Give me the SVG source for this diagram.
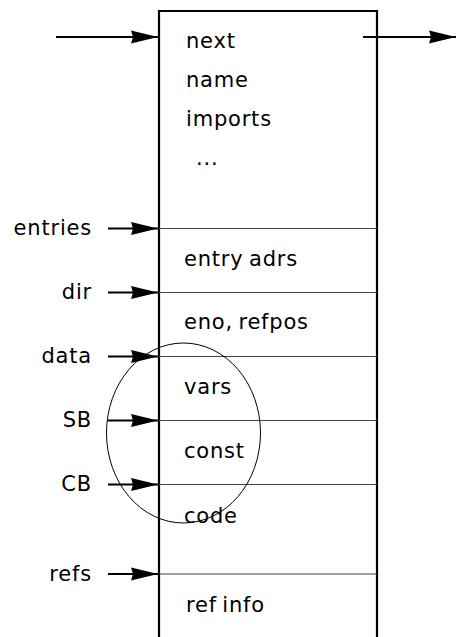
<svg xmlns="http://www.w3.org/2000/svg" width="456" height="637" viewBox="0 0 456 637">
<style>
  text { font-family: "DejaVu Sans", "Liberation Sans", sans-serif; font-size: 21px; letter-spacing: 0.8px; word-spacing: -2px; fill: #000; }
  .lbl { text-anchor: end; }
  .sep { stroke: #444; stroke-width: 1.2; fill: none; }
  .box { stroke: #000; stroke-width: 2.2; fill: none; }
  .arr { stroke: #000; stroke-width: 2.2; fill: none; marker-end: url(#ah); }
</style>
<defs>
  <marker id="ah" markerUnits="userSpaceOnUse" markerWidth="28" markerHeight="14" refX="27" refY="7" orient="auto" viewBox="0 0 28 14">
    <path d="M0,0.5 L27,7 L0,13.5 L2,7 Z" fill="#000"/>
  </marker>
</defs>
<rect width="456" height="637" fill="#fff"/>
<g id="module">
  <path class="box" d="M159,637 V11 H377 V637"/>
  <path class="sep" d="M159,228.5 H377 M159,292.5 H377 M159,356.5 H377 M159,420.5 H377 M159,484.5 H377 M159,574 H377"/>
  <text x="186" y="48">next</text>
  <text x="186" y="87">name</text>
  <text x="186" y="126">imports</text>
  <text x="196" y="165">...</text>
  <text x="184" y="266">entry adrs</text>
  <text x="184" y="329">eno, refpos</text>
  <text x="184" y="394">vars</text>
  <text x="184" y="458">const</text>
  <text x="184" y="523">code</text>
  <text x="186" y="612">ref info</text>
</g>
<g id="labels">
  <text class="lbl" x="92" y="235">entries</text>
  <text class="lbl" x="92" y="299">dir</text>
  <text class="lbl" x="92" y="363">data</text>
  <text class="lbl" x="92" y="427">SB</text>
  <text class="lbl" x="92" y="491">CB</text>
  <text class="lbl" x="92" y="581">refs</text>
</g>
<g id="ellipse">
  <ellipse cx="183.5" cy="433" rx="77" ry="90" fill="none" stroke="#000" stroke-width="1"/>
</g>
<g id="connectors">
  <line class="arr" x1="56" y1="37" x2="158" y2="37"/>
  <line class="arr" x1="363" y1="37" x2="456" y2="37"/>
  <line class="arr" x1="108" y1="228.5" x2="158" y2="228.5"/>
  <line class="arr" x1="108" y1="292.5" x2="158" y2="292.5"/>
  <line class="arr" x1="108" y1="356.5" x2="158" y2="356.5"/>
  <line class="arr" x1="108" y1="420.5" x2="158" y2="420.5"/>
  <line class="arr" x1="108" y1="484.5" x2="158" y2="484.5"/>
  <line class="arr" x1="108" y1="574" x2="158" y2="574"/>
</g>
</svg>
